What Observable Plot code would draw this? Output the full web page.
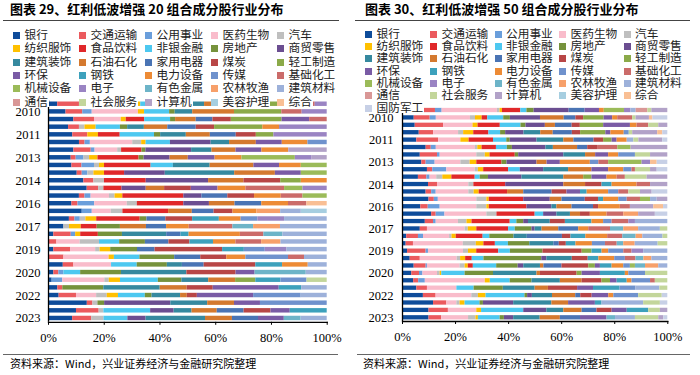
<!DOCTYPE html>
<html><head><meta charset="utf-8">
<script src="https://cdn.jsdelivr.net/npm/d3@7"></script>
<script src="https://cdn.jsdelivr.net/npm/@observablehq/plot@0.6"></script>
<style>
body{margin:0;background:#fff;width:700px;height:375px;overflow:hidden;position:relative;font-family:"Noto Sans CJK SC",sans-serif;color:#000}
.panel{position:absolute;top:0;width:350px;height:375px}
.panel svg{position:absolute;left:0;top:0}
.title{position:absolute;font-weight:bold;font-size:13px;line-height:16px;white-space:nowrap}
.rule{position:absolute;height:0;border-top:1.3px solid #444}
.li{position:absolute;font-size:11.7px;line-height:12px;height:12px;white-space:nowrap;color:#222;background:#fff;padding-right:1px}
.sw{display:inline-block;width:7px;height:7px;margin-right:4.5px;vertical-align:0px}
.src{position:absolute;font-size:11px;line-height:13px;white-space:nowrap}
.fr{position:absolute;height:0;border-top:1.2px solid #666}
</style></head><body>
<div id="p20" class="panel" style="left:0"></div>
<div id="p50" class="panel" style="left:350px"></div>
<script>
// ---- categories ----
const industries = ["银行","交通运输","公用事业","医药生物","汽车","纺织服饰","食品饮料","非银金融","房地产","商贸零售",
  "建筑装饰","石油石化","家用电器","煤炭","轻工制造","环保","钢铁","电力设备","传媒","基础化工",
  "机械设备","电子","有色金属","农林牧渔","建筑材料","通信","社会服务","计算机","美容护理","综合","国防军工"];
const industryColors = ["#0E4C9A","#EB5A5E","#6A9EDB","#F9BCCB","#BFBFBF","#FFC000","#E0282A","#4DC8F0","#76923C","#6B4E91",
  "#36899F","#D4792F","#4A74B4","#B84646","#8BAA49","#7A5BA5","#3DA1BC","#ED8B35","#6F92CD","#CB6B69",
  "#9BBB59","#9A84C3","#6DB4C8","#F7A06A","#9DB1DA","#D99796","#C3D69B","#B2A2C8","#A6CEE0","#F9BF94","#C7D0E6"];
const periods = ["2009H2","2010H1","2010H2","2011H1","2011H2","2012H1","2012H2","2013H1","2013H2","2014H1","2014H2",
  "2015H1","2015H2","2016H1","2016H2","2017H1","2017H2","2018H1","2018H2","2019H1","2019H2","2020H1","2020H2",
  "2021H1","2021H2","2022H1","2022H2","2023H1","2023H2"];
const tickPeriods = ["2010H1","2011H2","2013H1","2014H2","2016H1","2017H2","2019H1","2020H2","2022H1","2023H2"];
const tickYears = ["2010","2011","2013","2014","2016","2017","2019","2020","2022","2023"];
const xTicks = [0, 0.2, 0.4, 0.6, 0.8, 1];

// ---- series values: per period, [industry index, weight %] ----
const weights20 = [
 [[0,3.3],[1,7.8],[2,3],[3,17],[5,2],[7,10],[8,2],[9,4],[10,6.9],[11,14.7],[14,17],[19,8],[21,4.3]],
 [[0,6.3],[1,6],[2,3.4],[3,16.6],[5,2.2],[7,9],[8,2],[10,6.3],[11,15],[14,17],[19,7.3],[21,9]],
 [[0,9.1],[1,7.4],[3,9.6],[5,1.8],[6,6.6],[7,9.3],[8,1.8],[11,7.4],[12,6],[13,6.6],[14,18.2],[15,9.9],[19,6.3]],
 [[0,7.2],[1,3.9],[4,2],[5,4],[7,8.7],[8,2.6],[10,6],[11,8.4],[12,10.2],[13,6.6],[14,17.3],[17,6],[21,17.1]],
 [[0,8.7],[1,5.4],[5,3.8],[6,7.8],[7,12.3],[8,2.2],[10,9.2],[11,8.6],[12,9.3],[13,7.2],[14,6.3],[21,19.1]],
 [[0,11.1],[1,2],[2,1.9],[3,15.2],[4,3.2],[5,1.6],[7,8.7],[9,14.6],[10,6.6],[11,9.6],[15,9.3],[17,9.2],[18,6.9]],
 [[0,9.1],[1,6.2],[2,1.4],[3,8.1],[4,1.4],[6,7.3],[8,1.4],[9,16.4],[10,7.3],[11,8.6],[15,9.3],[17,9.6],[27,13.8]],
 [[0,8.1],[1,1.8],[2,2.8],[4,2],[5,3],[6,14.7],[8,1.8],[9,9.3],[11,6.5],[15,9.6],[17,9.6],[20,19.1],[21,6],[27,5.4]],
 [[0,8.4],[1,3.6],[2,4.5],[4,1.8],[5,1.8],[6,16.7],[7,8],[10,13.2],[11,15.7],[15,9.2],[17,7.8],[20,9.3]],
 [[0,10.3],[1,1.8],[2,2],[4,2.2],[5,3.8],[6,7.2],[9,14.6],[10,24.9],[11,14.6],[15,9.3],[20,9.3]],
 [[0,12.7],[1,3.6],[4,3.8],[6,15],[9,22.4],[11,12.7],[13,13.2],[14,7.4],[17,9.3]],
 [[0,13.9],[1,4.1],[4,1.9],[6,6.5],[9,8.7],[11,6.6],[13,9.6],[15,9.6],[17,10],[19,13.9],[20,6.6],[21,8.7]],
 [[0,11.1],[1,2],[2,2.2],[3,6.6],[4,2],[5,2.8],[6,21.9],[9,6.5],[12,9.3],[13,9.6],[17,9.6],[19,7.8],[20,8.7]],
 [[0,8.4],[1,2.2],[2,6],[3,11.7],[4,3.6],[6,16.7],[9,9.2],[11,9.2],[12,9.6],[17,9.6],[19,6.6],[29,7.3]],
 [[0,12.1],[2,3.6],[3,6.8],[4,4.2],[6,16.4],[11,8.5],[12,7.8],[13,6.8],[17,8.6],[23,8.5],[24,7.4],[28,9.3]],
 [[0,7.5],[1,2],[2,1.9],[4,2],[5,3.9],[6,15.6],[8,2.4],[12,6.8],[13,9.6],[16,9.6],[17,7.8],[18,6],[21,9.6],[24,15.3]],
 [[0,5.5],[4,2],[5,4.2],[6,5.7],[8,8.3],[11,9.3],[12,7.2],[17,8.1],[19,15.6],[22,7.4],[23,9.6],[24,16.7]],
 [[0,1.9],[1,6.2],[2,1.6],[5,1.8],[6,6.3],[8,8.6],[10,15.8],[12,5.1],[16,2.9],[17,18.3],[19,8.4],[22,6.8],[24,15.8]],
 [[1,3],[3,8.3],[4,6.9],[7,7.2],[8,9.2],[12,8.4],[13,7.5],[16,8.4],[17,8],[19,9.2],[23,6.9],[24,16.5]],
 [[0,1.9],[1,6],[3,9],[4,1.6],[5,3.8],[8,9.6],[12,6.3],[13,24.2],[16,7.8],[18,7.5],[21,7.8],[24,14.4]],
 [[1,5.5],[3,16.1],[5,1.9],[7,9.1],[8,12.4],[12,9.3],[13,9.3],[17,6.8],[18,15.2],[19,5.7],[24,8.1]],
 [[0,5.3],[1,3.8],[3,13.5],[7,9.2],[8,10.8],[10,5.4],[12,7.8],[13,18.5],[16,9.6],[17,9.2],[24,6.8]],
 [[0,1.9],[1,1.8],[2,1.8],[7,6],[8,14.6],[10,23.4],[13,17.6],[15,6.8],[22,18.3],[24,7.5]],
 [[0,1.3],[2,3.8],[3,15],[4,1.6],[5,4],[7,13.5],[8,8.4],[10,9.6],[11,9.6],[14,7.2],[16,9],[18,9.3],[26,7.2]],
 [[0,3.3],[1,1.8],[8,14.6],[10,20.1],[11,9.6],[13,9.3],[15,23.5],[16,8],[24,9.1]],
 [[0,3.8],[1,6.2],[3,7.2],[4,3.8],[5,4],[7,9.6],[8,2.4],[10,10.2],[11,2.4],[13,3.6],[15,20.1],[18,17],[24,9.3]],
 [[0,13.9],[1,2],[4,1.8],[8,2.4],[9,23.7],[10,13.2],[11,9.6],[15,9.3],[18,23.9]],
 [[0,10],[1,8.1],[4,1.7],[7,16.7],[9,8.4],[10,6.4],[11,9],[12,9.6],[13,9.6],[15,6.9],[16,13.2]],
 [[0,8.6],[1,6.8],[4,4.4],[7,8.5],[9,6.5],[10,21.2],[11,9.6],[12,9.3],[15,9.2],[22,6],[24,9.3]]
];
const weights50 = [
 [[0,4.2],[1,8.2],[2,2.5],[3,20.8],[4,1],[5,0.9],[6,6.9],[7,2.3],[8,2.7],[9,13.2],[12,6],[15,5.4],[17,1.8],[20,7.6],[21,2.4],[24,2],[25,4.4],[26,1.5],[27,6]],
 [[0,4.4],[1,6],[2,2.3],[3,12.8],[4,1.9],[5,2.5],[6,2.1],[7,6],[8,2.5],[9,11.3],[11,8.9],[12,4.4],[13,2.9],[14,7.7],[15,3.2],[17,1.9],[19,5.6],[26,1.3],[27,5],[29,1.3],[30,5.6]],
 [[0,4.8],[1,10.7],[3,11.1],[5,1.9],[6,8.4],[7,7.8],[8,1.9],[9,7.3],[11,3.8],[12,6.3],[13,3.1],[14,8.8],[15,10.1],[17,2.5],[19,4.4],[26,3.8],[27,3.4]],
 [[0,6.3],[1,5.4],[3,9.4],[4,1.9],[5,3.8],[6,5.7],[7,4.4],[8,1.9],[9,6.9],[10,6.3],[11,4.7],[12,7.2],[13,3.1],[14,9.5],[15,1.9],[17,5],[18,1.9],[26,1.3],[27,9.4],[29,1.9],[30,1.9]],
 [[0,5.4],[1,8.2],[3,8.4],[5,3.1],[6,9.2],[7,5],[8,1.3],[9,10.1],[10,10.1],[11,3.8],[12,7.6],[13,3.6],[14,3.2],[15,1.9],[17,3.8],[24,2.5],[26,1.9],[27,9],[30,1.9]],
 [[0,8.9],[1,1.9],[2,1.9],[3,14.7],[4,0.9],[5,1.6],[6,5.4],[7,4.1],[8,1.9],[9,12.6],[10,2.8],[11,9.1],[12,3.8],[13,3.7],[19,7.6],[20,5],[27,13.8]],
 [[0,6.7],[1,6.5],[2,1],[3,13.8],[4,3.2],[5,1.8],[6,9.5],[8,1.3],[9,17],[10,8.2],[11,3.8],[15,4.9],[17,3.8],[18,6.3],[26,5.7],[27,6.5]],
 [[0,7.3],[1,1.6],[2,3.4],[3,9.7],[4,3.5],[5,2.5],[6,9.5],[8,1.9],[9,11.3],[11,3.8],[15,5],[17,11.3],[18,3.2],[19,3.7],[20,12.6],[21,3.2],[29,2.5],[30,4]],
 [[0,9.4],[1,2],[2,5.3],[3,10.7],[4,1.2],[5,2],[6,9.4],[7,4.4],[9,8.8],[10,9.4],[11,8.8],[15,6.3],[17,5.7],[18,3.1],[19,1.3],[26,5.7],[27,2.5],[30,4]],
 [[0,6],[1,3.2],[2,1.2],[3,2.5],[4,2.3],[5,3.4],[6,8.8],[7,1.9],[8,3.1],[9,12.6],[10,15.8],[11,7.5],[14,3.1],[15,5.7],[17,3.8],[19,3.1],[26,8.2],[27,7.8]],
 [[0,9.8],[1,3.4],[3,11.8],[4,1.9],[6,12],[9,21.9],[11,8.2],[13,6.2],[16,3.8],[17,9.4],[19,5.1],[27,6.5]],
 [[0,8.9],[1,2.1],[2,1.7],[3,12.3],[4,2],[5,1.9],[6,10.7],[11,6.1],[12,10.7],[13,5.6],[15,5.1],[16,2.5],[17,8.1],[18,3.8],[19,3.8],[26,4.4],[27,4.4],[30,5.9]],
 [[0,10],[1,2],[2,1.5],[3,14.5],[4,3.8],[5,0.9],[6,13],[9,10],[11,4.4],[12,8.8],[13,5],[16,1.9],[17,5.7],[18,3.2],[19,5],[20,3.8],[24,2.5],[27,4]],
 [[0,6.9],[1,2.8],[2,4.5],[3,13.8],[4,3.8],[5,0.9],[6,14.2],[9,9.4],[10,1.9],[11,5.7],[12,8.1],[13,1.9],[17,8.2],[19,3.8],[27,8.8],[29,3.7],[30,1.6]],
 [[0,11],[1,1.7],[2,3.3],[3,15.8],[4,3.8],[6,14.4],[7,3.2],[9,5],[10,5.1],[11,3.8],[13,3.7],[17,6.3],[19,6.3],[23,5.6],[27,6.3],[30,4.7]],
 [[0,8.6],[1,3.1],[2,1],[3,8.4],[4,3.2],[5,1.9],[6,14.4],[7,2.5],[8,2.6],[9,1.8],[10,8.2],[13,5.7],[16,10],[17,4.4],[18,3.2],[19,6.3],[21,2.5],[24,12.2]],
 [[0,6.7],[1,2.7],[3,14.2],[4,1.2],[5,3.2],[6,12],[7,2.5],[8,6.3],[9,1.2],[10,2.6],[11,6.3],[12,7.5],[17,3.8],[19,8.2],[22,5],[23,5.6],[24,8.2],[26,2.8]],
 [[0,1.6],[1,4.4],[2,1.9],[3,9.8],[4,0.9],[5,1.6],[6,10.1],[7,2.5],[8,9.1],[10,5],[12,13.2],[13,3.2],[16,5.6],[17,8.2],[19,5.7],[22,5],[23,2.5],[24,7.6],[26,1.8]],
 [[0,1.4],[1,2.8],[3,19.1],[4,5],[5,2.9],[6,4.4],[7,5],[8,8.2],[10,9.2],[12,2.1],[13,2.7],[16,3.7],[17,6.3],[18,5],[19,4.5],[22,2.5],[23,4.4],[24,8.8],[26,3.7]],
 [[0,1.9],[1,7],[2,0.9],[3,13.2],[4,1.9],[5,3.1],[6,8.3],[7,4.4],[8,12.3],[13,14.8],[14,3.7],[16,3.8],[17,2.5],[18,5.7],[19,3.1],[21,4.4],[24,9.1]],
 [[0,2.9],[1,3.8],[3,13.9],[4,1.3],[5,1.9],[6,2.5],[7,4.4],[8,21.8],[9,1.9],[10,9.6],[13,6],[16,4],[17,6],[18,4],[19,4],[22,3],[23,3],[24,6]],
 [[0,4.4],[1,4.5],[2,0.5],[3,12.3],[4,1.9],[5,1.2],[6,1.9],[7,8.8],[8,8.1],[9,2.1],[10,6.3],[11,1.3],[12,6.8],[13,10.1],[14,2.5],[15,1.9],[16,4.4],[17,4.4],[18,2.5],[20,1.9],[22,3.8],[23,5],[24,3.4]],
 [[0,3.5],[1,2.9],[2,1.3],[3,5.5],[4,1],[5,0.6],[7,8.8],[8,10.7],[10,16.4],[11,1.3],[13,13.8],[14,1.9],[15,6.9],[16,9.4],[17,1.3],[18,6.3],[26,8.4]],
 [[0,4.2],[1,1.9],[2,2.5],[3,22.6],[5,1.9],[7,7.5],[8,8.2],[10,10.7],[11,8.2],[13,7.5],[14,3.2],[15,2.5],[16,3.8],[17,1.8],[18,7],[19,1.8],[26,4.7]],
 [[0,5.4],[1,4],[3,11.1],[7,6.5],[8,11],[10,12],[11,5],[13,11],[15,6],[16,10],[18,6],[24,9],[26,3]],
 [[0,7.9],[1,4.8],[3,13.5],[4,2.5],[5,2.9],[7,14.7],[8,1],[9,1.8],[10,7.6],[11,8.8],[12,1.9],[13,4.3],[15,6.3],[17,1.9],[18,9.4],[26,8.9],[30,2.1]],
 [[0,11.7],[1,5],[3,3.8],[4,1.2],[5,1.9],[7,5.6],[8,1.3],[9,11.4],[10,14.4],[11,6.3],[15,10.1],[16,2.5],[24,15.7],[26,6.3],[30,2.8]],
 [[0,10],[1,7.3],[3,10.7],[5,1.8],[7,15.9],[9,8.7],[10,6.4],[11,6.9],[12,5.6],[13,5.7],[15,5.7],[16,8.1],[26,4.4],[27,2.8]],
 [[0,10],[1,4.8],[3,10.1],[4,2.8],[5,0.9],[7,8.2],[8,1.6],[9,3.5],[10,10],[11,7.6],[12,7.6],[15,10],[22,3.2],[24,7.5],[26,8.8],[27,1.9],[30,1.5]]
];

// ---- texts ----
const titles = ["图表 29、红利低波增强 20 组合成分股行业分布", "图表 30、红利低波增强 50 组合成分股行业分布"];
const source = "资料来源：Wind，兴业证券经济与金融研究院整理";

const colorOf = Object.fromEntries(industries.map((n, i) => [n, industryColors[i]]));
const yearOf = Object.fromEntries(tickPeriods.map((p, i) => [p, tickYears[i]]));

function panel(el, rows, nInd, cfg) {
  const inds = industries.slice(0, nInd);
  const data = [];
  rows.forEach((r, i) => r.forEach(([k, v]) => data.push({period: periods[i], ind: industries[k], v})));
  const chart = Plot.plot({
    width: 350, height: 350,
    marginLeft: cfg.ml, marginRight: cfg.mr, marginTop: cfg.mt, marginBottom: cfg.mb,
    style: {fontFamily: "'Liberation Serif', serif", fontSize: "12.5px", color: "#000", background: "transparent", overflow: "visible"},
    x: {domain: [0, 1], label: null},
    y: {type: "band", domain: periods, paddingInner: 0.42, paddingOuter: 0.21, round: false, label: null},
    color: {domain: inds, range: inds.map(n => colorOf[n])},
    marks: [
      Plot.barX(data, Plot.stackX({x: "v", y: "period", fill: "ind", order: inds, offset: "normalize"})),
      Plot.ruleX([0], {stroke: "#000", strokeWidth: 1.3}),
      Plot.frame({anchor: "bottom", stroke: "#000", strokeWidth: 1.3}),
      Plot.axisX({ticks: xTicks, tickFormat: d3.format(".0%"), tickSize: 3, tickPadding: 8, fontSize: 12.5, stroke: "#000"}),
      Plot.axisY({ticks: tickPeriods, tickFormat: d => yearOf[d], tickSize: 0, tickPadding: cfg.tp, fontSize: 12.5})
    ]
  });
  el.appendChild(chart);

  const t = document.createElement("div");
  t.className = "title"; t.textContent = cfg.title;
  t.style.left = cfg.tx + "px"; t.style.top = "1px";
  el.appendChild(t);
  const r = document.createElement("div");
  r.className = "rule"; r.style.left = cfg.r0 + "px"; r.style.width = (cfg.r1 - cfg.r0) + "px"; r.style.top = "20px";
  el.appendChild(r);

  inds.forEach((n, k) => {
    const d = document.createElement("div");
    d.className = "li";
    d.style.left = cfg.cols[k % 5] + "px";
    d.style.top = (cfg.row0 + Math.floor(k / 5) * cfg.rowH - 6) + "px";
    const s = document.createElement("span");
    s.className = "sw"; s.style.background = colorOf[n];
    d.appendChild(s);
    d.appendChild(document.createTextNode(n));
    el.appendChild(d);
  });

  const f = document.createElement("div");
  f.className = "fr"; f.style.left = cfg.f0 + "px"; f.style.width = (cfg.f1 - cfg.f0) + "px"; f.style.top = "354px";
  el.appendChild(f);
  const s = document.createElement("div");
  s.className = "src"; s.textContent = source; s.style.left = cfg.sx + "px"; s.style.top = "357px";
  el.appendChild(s);
}

panel(document.getElementById("p20"), weights20, 30, {
  ml: 48, mr: 23.3, mt: 99.9, mb: 28.2, tp: 8, title: titles[0], tx: 10, r0: 3, r1: 339,
  cols: [13, 79, 145, 211, 277], row0: 34, rowH: 13.3, f0: 3, f1: 338, sx: 10
});
panel(document.getElementById("p50"), weights50, 31, {
  ml: 52, mr: 32.7, mt: 106.3, mb: 29, tp: 9, title: titles[1], tx: 15, r0: 5, r1: 340,
  cols: [15, 80, 144.5, 209, 273.5], row0: 32.7, rowH: 12.3, f0: 6.7, f1: 340, sx: 13
});
</script>
</body></html>
